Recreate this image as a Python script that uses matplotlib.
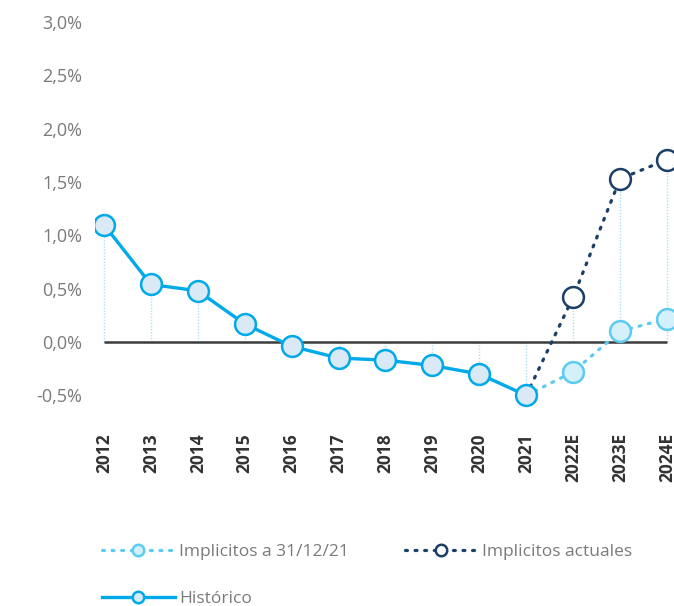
import numpy as np
import matplotlib.pyplot as plt

plt.rcParams['font.family'] = ['Open Sans', 'DejaVu Sans']

years = ['2012', '2013', '2014', '2015', '2016', '2017', '2018', '2019',
         '2020', '2021', '2022E', '2023E', '2024E']
historico = [1.10, 0.54, 0.48, 0.17, -0.04, -0.15, -0.17, -0.22, -0.30, -0.50]
implicitos_3112 = [-0.50, -0.28, 0.10, 0.22]
implicitos_actuales = [-0.50, 0.42, 1.53, 1.71]
yticks = [-0.5, 0.0, 0.5, 1.0, 1.5, 2.0, 2.5, 3.0]

c_hist = '#00A9E8'
c_imp = '#5CCBF2'
c_act = '#1B3F66'

x = np.arange(len(years))
x_hist = x[:len(historico)]
x_fut = x[len(historico) - 1:]

fig = plt.figure(figsize=(6.74, 6.06), dpi=100)
ax = fig.add_axes([0.141, 0.3036, 0.859, 0.66])

# drop lines from each point to zero
tops = historico + [max(a, b) for a, b in zip(implicitos_3112[1:], implicitos_actuales[1:])]
ax.vlines(x, 0, tops, colors='#A9E0F7', linestyles=(0, (1, 1.2)), linewidth=1.0, zorder=1)
ax.hlines(0, x[0], x[-1], color='#3C3C3C', linewidth=1.8, zorder=2)

ax.plot(x_fut, implicitos_3112, color=c_imp, linestyle=(0, (0.6, 2.4)), linewidth=2.3,
        dash_capstyle='round', marker='o', markersize=15, markerfacecolor='#D4F0FB',
        markeredgecolor=c_imp, markeredgewidth=1.8, markevery=[1, 2, 3], zorder=3,
        label='Implicitos a 31/12/21')
ax.plot(x_fut, implicitos_actuales, color=c_act, linestyle=(0, (0.6, 2.4)), linewidth=2.3,
        dash_capstyle='round', marker='o', markersize=15, markerfacecolor='white',
        markeredgecolor=c_act, markeredgewidth=1.8, markevery=[1, 2, 3], zorder=3,
        label='Implicitos actuales')
ax.plot(x_hist, historico, color=c_hist, linewidth=2.4, marker='o', markersize=15,
        markerfacecolor='#D9E9F6', markeredgecolor=c_hist, markeredgewidth=1.8, zorder=4,
        label='Histórico')

ax.set_xlim(-0.19, 12.15)
ax.set_ylim(-0.75, 3.0)
ax.set_yticks(yticks)
ax.set_yticklabels([f'{v:.1f}%'.replace('.', ',') for v in yticks], color='#7A7A7A', fontsize=13)
ax.set_xticks(x)
ax.set_xticklabels(years, rotation=90, fontweight='bold', color='#333333', fontsize=12.5)
ax.tick_params(axis='both', length=0)
ax.tick_params(axis='y', pad=9)
ax.tick_params(axis='x', pad=8)
for s in ax.spines.values():
    s.set_visible(False)

h, l = ax.get_legend_handles_labels()
order = [0, 2, 1]
fig.legend([h[i] for i in order], [l[i] for i in order], ncol=2, loc='upper left',
           bbox_to_anchor=(0.128, 0.128), frameon=False, fontsize=12.5,
           labelcolor='#7A7A7A', handlelength=4.2, handletextpad=0.25,
           columnspacing=3.2, labelspacing=1.75, markerscale=0.55)

fig.savefig('out.png', dpi=100)
